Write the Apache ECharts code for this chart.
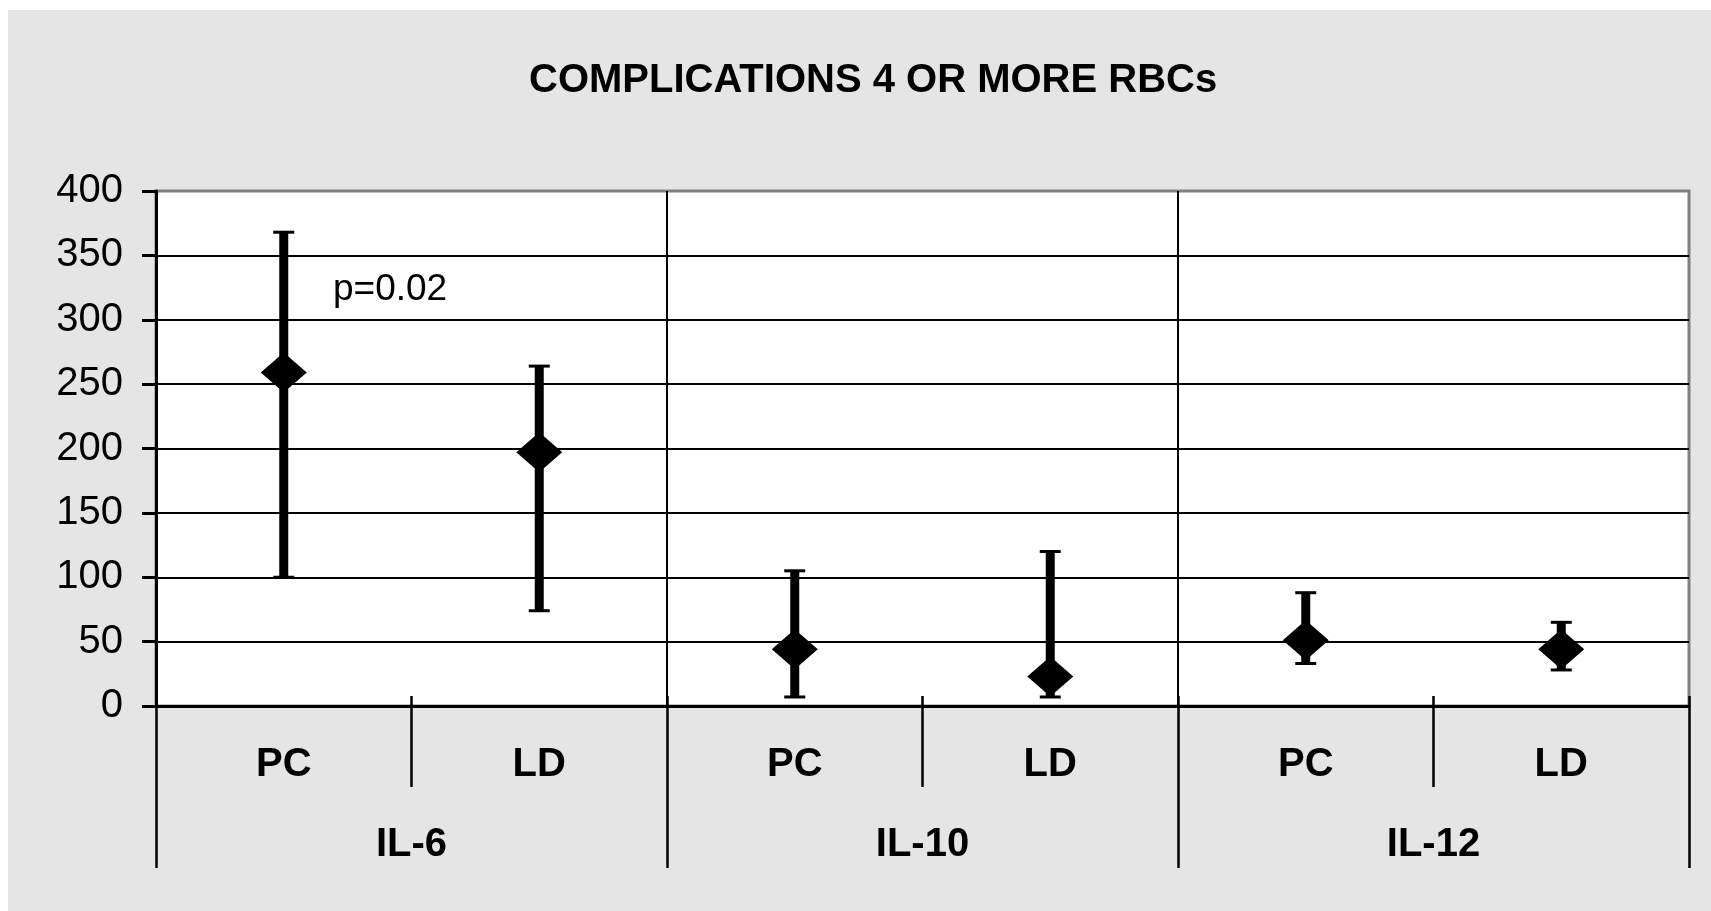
<!DOCTYPE html>
<html>
<head>
<meta charset="utf-8">
<script src="https://cdn.jsdelivr.net/npm/echarts@6/dist/echarts.min.js"></script>
<style>
html,body{margin:0;padding:0;background:#fff;}
#c{width:1711px;height:911px;}
</style>
</head>
<body>
<div id="c"></div>
<script>
var categories = ['PC', 'LD', 'PC', 'LD', 'PC', 'LD'];
var groups = ['IL-6', 'IL-10', 'IL-12'];
var means = [259, 197, 44, 23, 51, 44];
var upper = [368, 264, 105, 120, 88, 65];
var lower = [100, 74, 7, 7, 33, 28];
var yTicks = [0, 50, 100, 150, 200, 250, 300, 350, 400];
var titleText = 'COMPLICATIONS 4 OR MORE RBCs';
var noteText = 'p=0.02';

var FONT = '"Liberation Sans", Arial, sans-serif';
var chart = echarts.init(document.getElementById('c'), null, {renderer: 'canvas'});

var errData = categories.map(function (c, i) { return [i, lower[i], upper[i]]; });
var meanData = categories.map(function (c, i) { return [i, means[i]]; });

var option = {
  backgroundColor: '#ffffff',
  animation: false,
  graphic: [
    {type: 'rect', left: 8, top: 10, z: -10, silent: true,
     shape: {width: 1703, height: 901}, style: {fill: '#e5e5e5'}},
    {type: 'text', left: 333, top: 271, z: 10,
     style: {text: noteText, font: '37px ' + FONT, fill: '#000'}}
  ],
  title: {
    text: titleText,
    left: 524, top: 56,
    textStyle: {fontFamily: FONT, fontWeight: 'bold', fontSize: 40, color: '#000'}
  },
  grid: {
    left: 156, right: 22, top: 191, bottom: 205,
    show: true, backgroundColor: '#ffffff', borderColor: '#808080', borderWidth: 3,
    containLabel: false
  },
  xAxis: [
    {
      type: 'category', data: categories, position: 'bottom', boundaryGap: true,
      axisLine: {show: true, lineStyle: {color: '#000', width: 3}},
      axisTick: {show: true, interval: 0, length: 81, lineStyle: {color: '#000', width: 2.5}},
      axisLabel: {show: true, interval: 0, margin: 39, color: '#000',
        fontFamily: FONT, fontWeight: 'bold', fontSize: 40},
      splitLine: {show: false}
    },
    {
      type: 'category', data: groups, position: 'bottom', offset: 0, boundaryGap: true,
      axisLine: {show: false},
      axisTick: {show: true, interval: 0, length: 162, lineStyle: {color: '#000', width: 2.5}},
      axisLabel: {show: true, interval: 0, margin: 119, color: '#000',
        fontFamily: FONT, fontWeight: 'bold', fontSize: 40},
      splitLine: {show: true, interval: 0, showMinLine: false, showMaxLine: false,
        lineStyle: {color: '#000', width: 2}}
    },
    {
      type: 'category', data: categories, position: 'bottom', offset: 0, boundaryGap: true,
      axisLine: {show: false},
      axisTick: {show: true, inside: true, interval: 0, length: 10, lineStyle: {color: '#000', width: 2.5}},
      axisLabel: {show: false},
      splitLine: {show: false}
    }
  ],
  yAxis: {
    type: 'value', min: yTicks[0], max: yTicks[yTicks.length - 1], interval: 50,
    axisLine: {show: true, lineStyle: {color: '#000', width: 3}},
    axisTick: {show: true, length: 14, lineStyle: {color: '#000', width: 3}},
    axisLabel: {margin: 33, color: '#000', fontFamily: FONT, fontSize: 40},
    splitLine: {show: true, showMaxLine: false, lineStyle: {color: '#000', width: 2}}
  },
  series: [
    {
      type: 'custom', xAxisIndex: 0, yAxisIndex: 0, z: 3,
      data: errData,
      renderItem: function (params, api) {
        var x = api.value(0);
        var lo = api.coord([x, api.value(1)]);
        var hi = api.coord([x, api.value(2)]);
        var cw = 21;
        return {
          type: 'group',
          children: [
            {type: 'line', shape: {x1: lo[0], y1: lo[1], x2: hi[0], y2: hi[1]},
             style: {stroke: '#000', lineWidth: 9}},
            {type: 'line', shape: {x1: hi[0] - cw / 2, y1: hi[1], x2: hi[0] + cw / 2, y2: hi[1]},
             style: {stroke: '#000', lineWidth: 3}},
            {type: 'line', shape: {x1: lo[0] - cw / 2, y1: lo[1], x2: lo[0] + cw / 2, y2: lo[1]},
             style: {stroke: '#000', lineWidth: 3}}
          ]
        };
      }
    },
    {
      type: 'scatter', xAxisIndex: 0, yAxisIndex: 0, z: 4,
      data: meanData,
      symbol: 'diamond', symbolSize: [46, 40],
      itemStyle: {color: '#000', opacity: 1}
    }
  ]
};
chart.setOption(option);
</script>
</body>
</html>
